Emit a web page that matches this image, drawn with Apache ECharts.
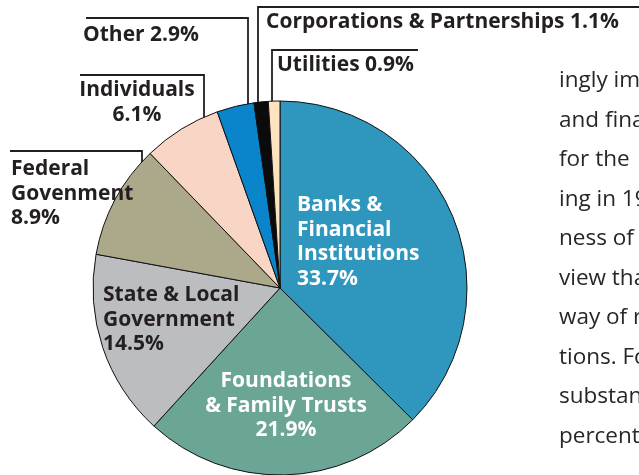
<!DOCTYPE html>
<html>
<head>
    <meta charset="utf-8">
    <title>Pie</title>
    <script src="https://cdn.jsdelivr.net/npm/echarts@6/dist/echarts.min.js"></script>
    <style>
        html, body { margin: 0; padding: 0; background: #fff; }
        #main { width: 639px; height: 475px; }
    </style>
</head>
<body>
    <div id="main"></div>
    <script type="text/javascript">
        // data
        var categories = ['Banks & Financial Institutions', 'Foundations & Family Trusts', 'State & Local Government',
            'Federal Govenment', 'Individuals', 'Other', 'Corporations & Partnerships', 'Utilities'];
        var shares = [33.7, 21.9, 14.5, 8.9, 6.1, 2.9, 1.1, 0.9];
        // label text as printed (line breaks), percent gets appended
        var labelNames = ['Banks &\nFinancial\nInstitutions\n', 'Foundations\n& Family Trusts\n', 'State & Local\nGovernment\n',
            'Federal\nGovenment\n', 'Individuals\n', 'Other ', 'Corporations & Partnerships ', 'Utilities '];
        var colors = ['#2f97bd', '#6ba595', '#bcbdc1', '#aba98a', '#f9d5c6', '#0a85cb', '#0b0b0b', '#fde4bf'];
        // side text that runs off the page
        var bodyLines = ['ingly im', 'and fina', 'for the', 'ing in 19', 'ness of', 'view tha', 'way of r', 'tions. Fo', 'substan', 'percent'];

        // label placement: [x, y(top), align, line points or null]
        var labelPlace = [
            [297, 193, 'left', null],
            [286, 369, 'center', null],
            [103, 283, 'left', null],
            [11, 157, 'left', [[142, 224], [142, 151], [10, 151]]],
            [137, 78, 'center', [[204, 142], [204, 75], [80, 75]]],
            [83, 23, 'left', [[248, 120], [248, 18], [86, 18]]],
            [266, 10, 'left', [[258, 110], [258, 7], [660, 7]]],
            [277, 53, 'left', [[272, 112], [272, 50], [418, 50]]]
        ];
        var whiteLabel = [true, true, false, false, false, false, false, false];

        var chart = echarts.init(document.getElementById('main'));

        var data = categories.map(function (name, i) {
            return {
                name: name,
                value: shares[i],
                itemStyle: { color: colors[i] },
                label: { color: whiteLabel[i] ? '#ffffff' : '#231f20' },
                labelLine: { show: labelPlace[i][3] !== null }
            };
        });

        var graphics = bodyLines.map(function (t, i) {
            return {
                type: 'text',
                x: 559,
                y: 81 + i * 39.5,
                style: { text: t, font: '22.5px "Open Sans"', fill: '#2a2627', verticalAlign: 'middle' }
            };
        });

        var option = {
            animation: false,
            graphic: graphics,
            series: [{
                type: 'pie',
                center: [280, 288],
                radius: 187,
                startAngle: 90,
                clockwise: true,
                avoidLabelOverlap: false,
                silent: true,
                itemStyle: { borderColor: '#111', borderWidth: 1 },
                label: {
                    show: true,
                    position: 'outside',
                    fontFamily: 'Open Sans',
                    fontWeight: 'bold',
                    fontSize: 21,
                    lineHeight: 24.5,
                    formatter: function (p) {
                        return labelNames[p.dataIndex] + p.value.toFixed(1) + '%';
                    }
                },
                labelLine: {
                    show: true,
                    lineStyle: { color: '#231f20', width: 1.8 }
                },
                labelLayout: function (p) {
                    var pl = labelPlace[p.dataIndex];
                    var res = { x: pl[0], y: pl[1], align: pl[2], verticalAlign: 'top' };
                    if (pl[3]) res.labelLinePoints = pl[3];
                    return res;
                },
                data: data
            }]
        };

        chart.setOption(option);
    </script>
</body>
</html>
